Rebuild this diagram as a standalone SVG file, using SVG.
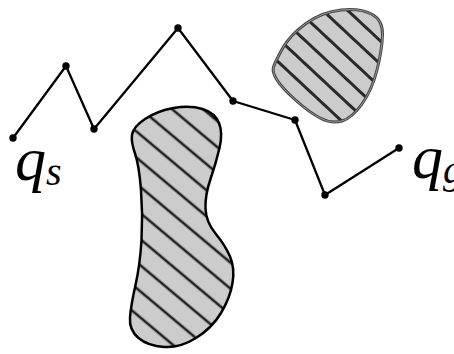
<svg xmlns="http://www.w3.org/2000/svg" width="454" height="354" viewBox="0 0 454 354">
<style>
.edge{stroke:#000;stroke-width:2.3;fill:none;stroke-linecap:round;stroke-linejoin:round}
.pt{fill:#000}
.lbl{font-family:"Liberation Serif","DejaVu Serif",serif;font-style:italic;fill:#000}
</style>
<defs>
<pattern id="hatchL" patternUnits="userSpaceOnUse" width="20" height="20" patternTransform="rotate(40) translate(0,3)">
<rect width="20" height="20" fill="#cccccc"/>
<line x1="0" y1="10" x2="20" y2="10" stroke="#222" stroke-width="2.6"/>
</pattern>
<pattern id="hatchS" patternUnits="userSpaceOnUse" width="20" height="17" patternTransform="rotate(43)">
<rect width="20" height="17" fill="#cccccc"/>
<line x1="0" y1="8.5" x2="20" y2="8.5" stroke="#2a2a2a" stroke-width="3"/>
</pattern>
<path id="smallShape" d="M273.5,67 Q275,62 282.5,48.5 Q290,35 306,23.5 Q322,12 341,10 Q360,8 371.5,14 Q383,20 382.5,35 Q382,50 377,70 Q372,90 362,104 Q352,118 342,121 Q332,124 321,118.5 Q310,113 296,100.5 Q282,88 277,80 Q272,72 273.5,67 Z"/>
</defs>
<rect width="454" height="354" fill="#fff"/>
<g id="obstacle-large">
<path fill="url(#hatchL)" stroke="#000" stroke-width="2.5" d="M132,135 Q133,127 145,119 Q157,111 173.5,108 Q190,105 202.5,109 Q215,113 219,123 Q223,133 219.5,148 Q216,163 210.5,179 Q205,195 205.5,208.5 Q206,222 215.5,233.5 Q225,245 230,256.5 Q235,268 232.5,283 Q230,298 221,313 Q212,328 196,338 Q180,348 164,347 Q148,346 138.5,338 Q129,330 130,317.5 Q131,305 135.5,285 Q140,265 141.5,240 Q143,215 141,190 Q139,165 135,153.5 Q131,142 132,135 Z"/>
</g>
<g id="obstacle-small">
<use href="#smallShape" fill="url(#hatchS)" stroke="#444" stroke-width="3"/>
<use href="#smallShape" fill="none" stroke="#999" stroke-width="1"/>
</g>
<g id="connectors">
<polyline class="edge" points="13,138 66,66 94,129 178,28 233,101 295,120 325,195 399,148"/>
</g>
<g id="qs"><circle class="pt" cx="13" cy="138" r="3.7"/><text class="lbl" x="15" y="180" font-size="62">q<tspan font-size="40" dy="5">s</tspan></text></g>
<g id="v1"><circle class="pt" cx="66" cy="66" r="3.7"/></g>
<g id="v2"><circle class="pt" cx="94" cy="129" r="3.7"/></g>
<g id="v3"><circle class="pt" cx="178" cy="28" r="3.7"/></g>
<g id="v4"><circle class="pt" cx="233" cy="101" r="3.7"/></g>
<g id="v5"><circle class="pt" cx="295" cy="120" r="3.7"/></g>
<g id="v6"><circle class="pt" cx="325" cy="195" r="3.7"/></g>
<g id="qg"><circle class="pt" cx="399" cy="148" r="3.7"/><text class="lbl" x="412" y="178" font-size="62">q<tspan font-size="40" dy="5">g</tspan></text></g>
</svg>
